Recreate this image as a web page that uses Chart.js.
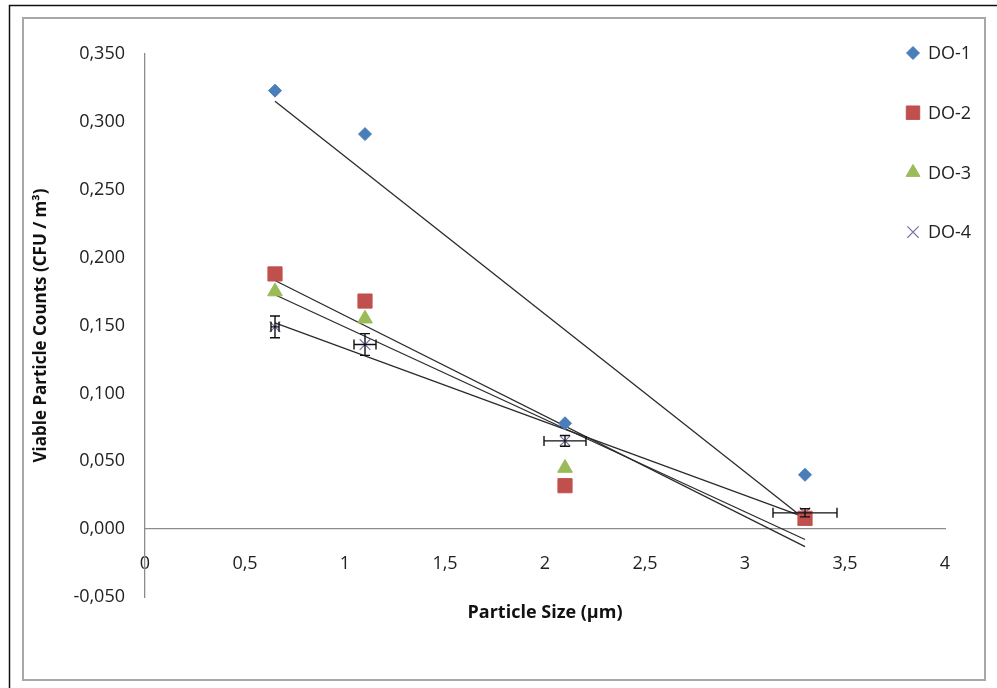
<!DOCTYPE html>
<html><head><meta charset="utf-8">
<script src="https://cdn.jsdelivr.net/npm/chart.js@4.4.1/dist/chart.umd.min.js"></script>
<style>html,body{margin:0;padding:0;background:#fff;overflow:hidden}#wrap{position:relative;width:997px;height:688px}canvas{display:block}</style>
</head><body><div id="wrap"><canvas id="c" width="997" height="688"></canvas></div>
<script>
// ---- data ----
const particleSize = [0.65, 1.1, 2.1, 3.3];
const do1 = [0.323, 0.291, 0.078, 0.040];
const do2 = [0.188, 0.168, 0.032, 0.008];
const do3 = [0.175, 0.155, 0.045, 0.006];
const do4 = [0.149, 0.136, 0.065, 0.012];
const do4ErrX = [0.02, 0.055, 0.105, 0.16];
const do4ErrY = [0.008, 0.008, 0.004, 0.003];
const seriesNames = ['DO-1', 'DO-2', 'DO-3', 'DO-4'];
const xTickValues = [0, 0.5, 1, 1.5, 2, 2.5, 3, 3.5, 4];
const yTickValues = [-0.05, 0, 0.05, 0.1, 0.15, 0.2, 0.25, 0.3, 0.35];
const xTitle = 'Particle Size (\u00b5m)';
const yTitle = 'Viable Particle Counts (CFU / m\u00b3)';

const FONT = "'Open Sans', sans-serif";
Chart.defaults.font.family = FONT;
Chart.defaults.font.size = 18;
Chart.defaults.color = '#222';

function pts(ys) { return particleSize.map((x, i) => ({x: x, y: ys[i]})); }
function trend(ys) {
  const n = particleSize.length;
  const mx = particleSize.reduce((a, b) => a + b, 0) / n;
  const my = ys.reduce((a, b) => a + b, 0) / n;
  let sxy = 0, sxx = 0;
  particleSize.forEach((x, i) => { sxy += (x - mx) * (ys[i] - my); sxx += (x - mx) * (x - mx); });
  const b = sxy / sxx, a = my - b * mx;
  const x0 = Math.min(...particleSize), x1 = Math.max(...particleSize);
  return [{x: x0, y: a + b * x0}, {x: x1, y: a + b * x1}];
}

const styles = [
  {color: '#4A7EBB', pointStyle: 'rectRot', radius: 6.5, bw: 1, legendR: 6.5},
  {color: '#C0504D', pointStyle: 'rect', radius: 10, bw: 1, legendR: 9.5},
  {color: '#9BBB59', pointStyle: 'triangle', radius: 8.5, bw: 1, legendR: 8},
  {color: '#8070A8', pointStyle: 'crossRot', radius: 7.5, bw: 1.2, legendR: 8}
];
const seriesValues = [do1, do2, do3, do4];

const datasets = [];
seriesValues.forEach((ys, i) => {
  datasets.push({
    label: seriesNames[i] + ' trend', data: trend(ys), showLine: true,
    borderColor: '#2a2a2a', borderWidth: 1.3, pointRadius: 0, order: 3, isTrend: true
  });
});
seriesValues.forEach((ys, i) => {
  const s = styles[i];
  datasets.push({
    label: seriesNames[i], data: pts(ys), showLine: false,
    pointStyle: s.pointStyle, pointRadius: s.radius, pointHoverRadius: s.radius,
    backgroundColor: s.color, borderColor: s.color, pointBorderWidth: s.bw,
    legendR: s.legendR, order: 1, isSeries: true
  });
});

const framePlugin = {
  id: 'frame',
  beforeDraw(chart) {
    const ctx = chart.ctx;
    ctx.save();
    ctx.fillStyle = '#fff';
    ctx.fillRect(0, 0, chart.width, chart.height);
    ctx.strokeStyle = '#111';
    ctx.lineWidth = 1.5;
    ctx.beginPath();
    ctx.moveTo(9.5, chart.height); ctx.lineTo(9.5, 5.5); ctx.lineTo(chart.width, 5.5);
    ctx.stroke();
    ctx.strokeStyle = '#a8a8a8';
    ctx.lineWidth = 2;
    ctx.strokeRect(23, 18, 962, 662);
    ctx.restore();
  }
};

const errorBarPlugin = {
  id: 'errbars',
  afterDatasetsDraw(chart) {
    const xs = chart.scales.x, ys = chart.scales.y, ctx = chart.ctx;
    ctx.save();
    ctx.strokeStyle = '#111';
    ctx.lineWidth = 1.4;
    const cap = 5;
    particleSize.forEach((xv, i) => {
      const px = xs.getPixelForValue(xv), py = ys.getPixelForValue(do4[i]);
      const xl = xs.getPixelForValue(xv - do4ErrX[i]), xr = xs.getPixelForValue(xv + do4ErrX[i]);
      const yt = ys.getPixelForValue(do4[i] + do4ErrY[i]), yb = ys.getPixelForValue(do4[i] - do4ErrY[i]);
      ctx.beginPath();
      ctx.moveTo(xl, py); ctx.lineTo(xr, py);
      ctx.moveTo(xl, py - cap); ctx.lineTo(xl, py + cap);
      ctx.moveTo(xr, py - cap); ctx.lineTo(xr, py + cap);
      ctx.moveTo(px, yt); ctx.lineTo(px, yb);
      ctx.moveTo(px - cap, yt); ctx.lineTo(px + cap, yt);
      ctx.moveTo(px - cap, yb); ctx.lineTo(px + cap, yb);
      ctx.stroke();
    });
    ctx.restore();
  }
};

const legendPlugin = {
  id: 'sideLegend',
  afterDraw(chart) {
    const ctx = chart.ctx, area = chart.chartArea;
    const mx = area.right - 32, tx = area.right - 17;
    let y = area.top - 1;
    const step = 59.7;
    ctx.save();
    chart.data.datasets.filter(d => d.isSeries).forEach(d => {
      const opts = {pointStyle: d.pointStyle, rotation: 0, borderWidth: d.pointBorderWidth, radius: d.legendR};
      ctx.fillStyle = d.backgroundColor; ctx.strokeStyle = d.borderColor; ctx.lineWidth = d.pointBorderWidth;
      Chart.helpers.drawPoint(ctx, opts, mx, y);
      ctx.fillStyle = '#222';
      ctx.font = "18px " + FONT;
      ctx.textBaseline = 'middle';
      ctx.textAlign = 'left';
      ctx.fillText(d.label, tx, y + 1);
      y += step;
    });
    ctx.restore();
  }
};

new Chart(document.getElementById('c'), {
  type: 'scatter',
  data: {datasets: datasets},
  options: {
    responsive: false, animation: false, devicePixelRatio: 1,
    layout: {padding: {left: 27, top: 54, right: 52, bottom: 91}},
    plugins: {legend: {display: false}, tooltip: {enabled: false}},
    scales: {
      x: {
        type: 'linear', min: 0, max: 4, position: {y: 0},
        afterBuildTicks: s => { s.ticks = xTickValues.map(v => ({value: v})); },
        grid: {display: false, drawTicks: false},
        border: {display: true, color: '#8c8c8c', width: 1.3},
        ticks: {padding: 24, color: '#222', font: {size: 18}, maxRotation: 0,
          callback: v => String(+v.toFixed(1)).replace('.', ',')},
        title: {display: true, text: xTitle, color: '#111', font: {size: 18, weight: 'bold'}, padding: {top: 3, bottom: 0}}
      },
      y: {
        type: 'linear', min: -0.05, max: 0.35, position: 'left',
        afterBuildTicks: s => { s.ticks = yTickValues.map(v => ({value: v})); },
        afterFit: s => { s.width = 118; },
        grid: {display: false, drawTicks: false},
        border: {display: true, color: '#8c8c8c', width: 1.3},
        ticks: {padding: 20, color: '#222', font: {size: 18},
          callback: v => v.toFixed(3).replace('.', ',')},
        title: {display: true, text: yTitle, color: '#111', font: {size: 17, weight: 'bold'}, padding: {top: 4, bottom: 4}}
      }
    }
  },
  plugins: [framePlugin, errorBarPlugin, legendPlugin]
});
</script>
</body></html>
